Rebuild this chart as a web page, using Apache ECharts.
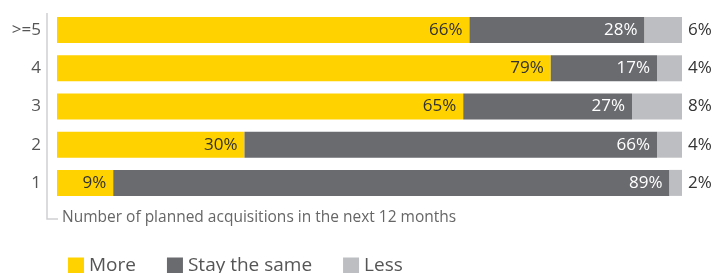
<!DOCTYPE html>
<html>
<head>
<meta charset="utf-8">
<script src="https://cdn.jsdelivr.net/npm/echarts@6/dist/echarts.min.js"></script>
<style>
  html, body { margin: 0; padding: 0; background: #fff; }
  #chart { width: 713px; height: 273px; }
</style>
</head>
<body>
<div id="chart"></div>
<script>
// categories, top to bottom
var categories = ['>=5', '4', '3', '2', '1'];
var more = [66, 79, 65, 30, 9];
var same = [28, 17, 27, 66, 89];
var less = [6, 4, 8, 4, 2];
var axisTitle = 'Number of planned acquisitions in the next 12 months';

var fontFamily = '"Open Sans", "Noto Sans", sans-serif';

var myChart = echarts.init(document.getElementById('chart'));

var option = {
    animation: false,
    textStyle: { fontFamily: fontFamily },
    grid: {
        left: 57,
        right: 31,
        top: 11,
        bottom: 71
    },
    legend: {
        left: 63,
        top: 251,
        itemWidth: 16,
        itemHeight: 16,
        itemGap: 31,
        icon: 'rect',
        textStyle: { fontSize: 19, color: '#555', fontFamily: fontFamily },
        data: ['More', 'Stay the same', 'Less']
    },
    xAxis: {
        type: 'value',
        min: 0,
        max: 100,
        show: false
    },
    yAxis: {
        type: 'category',
        inverse: true,
        data: categories,
        axisLine: { show: false },
        axisTick: { show: false },
        axisLabel: {
            margin: 16,
            fontSize: 17,
            color: '#555'
        }
    },
    graphic: [{
        type: 'polyline',
        shape: { points: [[47, 13], [47, 219], [58, 219]] },
        style: { stroke: '#cfcfd2', lineWidth: 1.5, fill: null }
    }, {
        type: 'text',
        left: 62,
        top: 210,
        style: {
            text: axisTitle,
            fontSize: 15.5,
            fill: '#666',
            fontFamily: fontFamily
        }
    }],
    series: [{
        name: 'More',
        type: 'bar',
        stack: 'total',
        barWidth: 26,
        itemStyle: { color: '#FFD200' },
        label: {
            show: true,
            position: 'insideRight',
            distance: 7,
            formatter: '{c}%',
            fontSize: 17,
            color: '#333'
        },
        data: more
    }, {
        name: 'Stay the same',
        type: 'bar',
        stack: 'total',
        barWidth: 26,
        itemStyle: { color: '#6A6B6F' },
        label: {
            show: true,
            position: 'insideRight',
            distance: 7,
            formatter: '{c}%',
            fontSize: 17,
            color: '#fff'
        },
        data: same
    }, {
        name: 'Less',
        type: 'bar',
        stack: 'total',
        barWidth: 26,
        itemStyle: { color: '#BDBEC2' },
        label: {
            show: true,
            position: 'right',
            distance: 6,
            formatter: '{c}%',
            fontSize: 17,
            color: '#333'
        },
        data: less
    }]
};

myChart.setOption(option);
</script>
</body>
</html>
